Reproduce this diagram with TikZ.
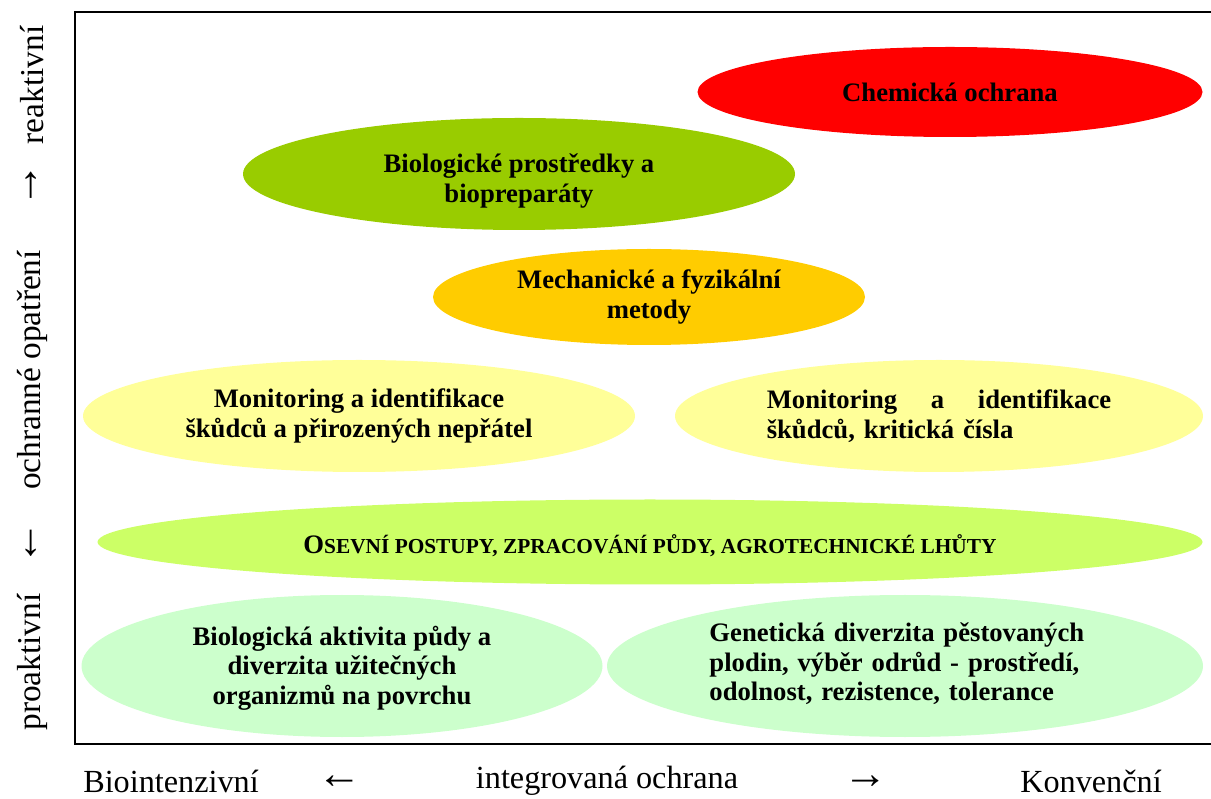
\documentclass[tikz,border=0pt]{standalone}
\usepackage{fontspec}
\setmainfont{Liberation Serif}
\usepackage{xcolor}
\usetikzlibrary{shapes.geometric,positioning}
\definecolor{chemred}{HTML}{FF0000}
\definecolor{biogreen}{HTML}{99CC00}
\definecolor{mechorange}{HTML}{FFCC00}
\definecolor{monyellow}{HTML}{FFFF99}
\definecolor{agrolime}{HTML}{CCFF66}
\definecolor{soilmint}{HTML}{CCFFCC}

\begin{document}
\begin{tikzpicture}[x=0.45pt, y=-0.45pt,
    oval/.style 2 args={ellipse, draw=none, inner sep=0pt,
                        minimum width=#1*0.45pt, minimum height=#2*0.45pt},
    ovaltext/.style={font=\bfseries\fontsize{12}{13.3}\selectfont, align=center, inner sep=0pt},
    axistext/.style={font=\fontsize{15}{18}\selectfont, inner sep=0pt},
    axisarrow/.style={font=\fontsize{20}{22}\selectfont, inner sep=0pt}
]
    \useasboundingbox (0,0) rectangle (1211,799);

    % Frame
    \draw[line width=1.1pt] (75,12) rectangle (1216,744);

    % Chemical protection
    \node[oval={505}{90}, fill=chemred] (chem) at (950,92) {};
    \node[ovaltext] at (chem) {Chemická ochrana};

    % Biological agents
    \node[oval={552}{112}, fill=biogreen] (bio) at (519,174) {};
    \node[ovaltext] at ([yshift=-7*0.45pt]bio) {Biologické prostředky a\\biopreparáty};

    % Mechanical and physical methods
    \node[oval={432}{96}, fill=mechorange] (mech) at (649,297) {};
    \node[ovaltext] at (mech) {Mechanické a fyzikální\\metody};

    % Monitoring
    \node[oval={552}{112}, fill=monyellow] (monleft) at (359,416) {};
    \node[ovaltext] at (monleft) {Monitoring a identifikace\\škůdců a přirozených nepřátel};
    \node[oval={528}{112}, fill=monyellow] (monright) at (939,416) {};
    \node[ovaltext, text width=155pt, align=left] at (monright)
        {Monitoring\hfill a\hfill identifikace\\škůdců, kritická čísla};

    % Agrotechnics
    \node[oval={1105}{85}, fill=agrolime] (agro) at (650,542) {};
    \node[ovaltext] at ([yshift=-4*0.45pt]agro)
        {O{\fontsize{9.6}{13.3}\selectfont SEVNÍ POSTUPY, ZPRACOVÁNÍ PŮDY, AGROTECHNICKÉ LHŮTY}};

    % Soil and diversity
    \node[oval={521}{142}, fill=soilmint] (soilleft) at (342,666) {};
    \node[ovaltext] at ([yshift=-2*0.45pt]soilleft)
        {Biologická aktivita půdy a\\diverzita užitečných\\organizmů na povrchu};
    \node[oval={596}{142}, fill=soilmint] (soilright) at (905,666) {};
    \node[ovaltext, text width=175pt, align=left, anchor=west] at (709,664)
        {Genetická diverzita pěstovaných\\plodin, výběr odrůd - prostředí,\\odolnost, rezistence, tolerance};

    % Vertical axis
    \node[axistext, rotate=90] (reakt) at (32,85) {reaktivní};
    \node[axisarrow, rotate=90] (uparrow) at (32,185) {→};
    \node[axistext, rotate=90] (opatr) at (32,370) {ochranné opatření};
    \node[axisarrow, rotate=90] (downarrow) at (32,543) {←};
    \node[axistext, rotate=90] (proakt) at (32,662) {proaktivní};

    % Horizontal axis
    \node[axistext, font=\fontsize{14.5}{17}\selectfont] (bioint) at (171,781) {Biointenzivní};
    \node[axisarrow] (leftarrow) at (340,782) {←};
    \node[axistext, font=\fontsize{14.5}{17}\selectfont] (integr) at (607,781) {integrovaná ochrana};
    \node[axisarrow] (rightarrow) at (866,782) {→};
    \node[axistext, font=\fontsize{14.5}{17}\selectfont] (konv) at (1091,781) {Konvenční};
\end{tikzpicture}
\end{document}
